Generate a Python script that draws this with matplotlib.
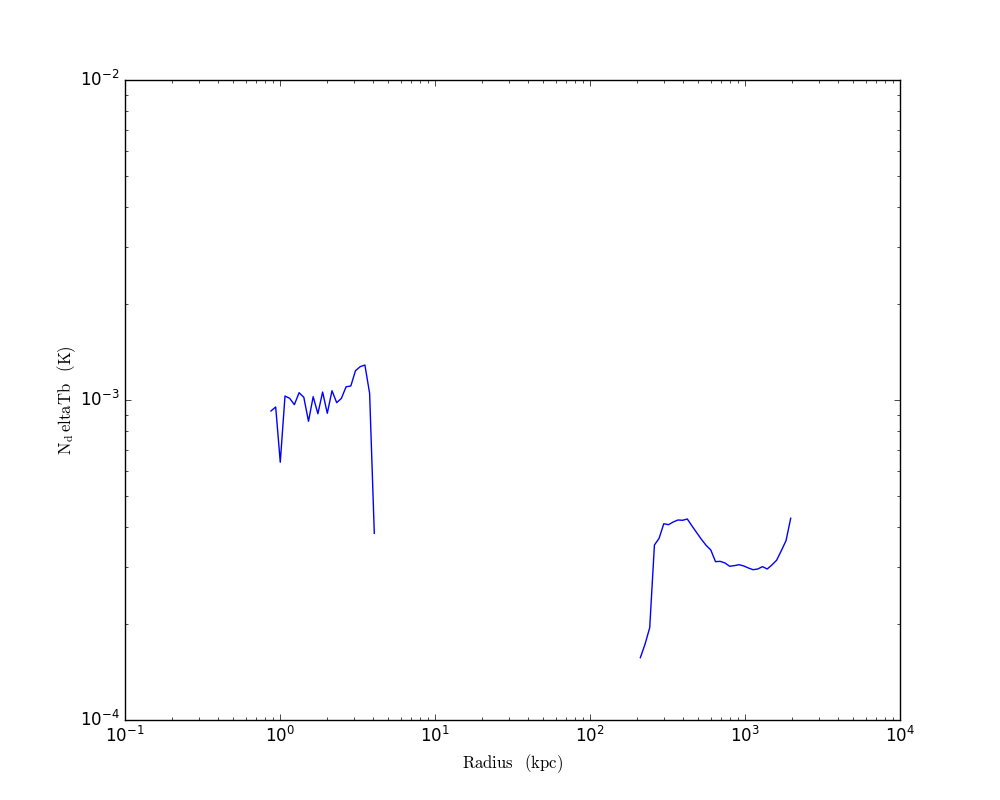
import numpy as np
import matplotlib
matplotlib.use('Agg')
import matplotlib.pyplot as plt

# primo tratto (raggi piccoli)
r_interno = [0.875, 0.938, 1.004, 1.077, 1.155, 1.238, 1.328, 1.424, 1.527, 1.637,
             1.756, 1.883, 2.019, 2.165, 2.322, 2.489, 2.670, 2.863, 3.070, 3.292,
             3.530, 3.786, 4.059]
t_interno = [9.24e-4, 9.51e-4, 6.39e-4, 1.029e-3, 1.012e-3, 9.67e-4, 1.054e-3, 1.020e-3,
             8.58e-4, 1.024e-3, 9.06e-4, 1.059e-3, 9.09e-4, 1.069e-3, 9.81e-4, 1.012e-3,
             1.100e-3, 1.106e-3, 1.235e-3, 1.271e-3, 1.286e-3, 1.049e-3, 3.83e-4]

# secondo tratto (raggi grandi)
r_esterno = [211.2, 226.4, 242.8, 260.4, 279.1, 299.3, 321.0, 344.2, 369.1, 395.8,
             424.4, 455.1, 488.1, 523.3, 561.2, 601.8, 645.2, 691.8, 741.9, 795.6,
             853.1, 914.8, 980.8, 1052, 1128, 1209, 1297, 1391, 1491, 1599,
             1715, 1839, 1972]
t_esterno = [1.566e-4, 1.724e-4, 1.943e-4, 3.522e-4, 3.696e-4, 4.106e-4, 4.077e-4, 4.157e-4,
             4.217e-4, 4.208e-4, 4.248e-4, 4.039e-4, 3.849e-4, 3.670e-4, 3.514e-4, 3.398e-4,
             3.125e-4, 3.132e-4, 3.096e-4, 3.023e-4, 3.036e-4, 3.058e-4, 3.030e-4, 2.985e-4,
             2.949e-4, 2.964e-4, 3.015e-4, 2.964e-4, 3.051e-4, 3.156e-4, 3.381e-4, 3.633e-4,
             4.270e-4]

plt.style.use('classic')
plt.rcParams['mathtext.fontset'] = 'dejavusans'

fig = plt.figure(figsize=(10, 8), dpi=100, facecolor='white')
ax = fig.add_subplot(111)

# il buco tra i due tratti si ottiene con un NaN
r = r_interno + [np.nan] + r_esterno
t = t_interno + [np.nan] + t_esterno
ax.plot(r, t, color='blue', lw=1)

ax.set_xscale('log')
ax.set_yscale('log')
ax.set_xlim(0.1, 1e4)
ax.set_ylim(1e-4, 1e-2)

ax.set_xlabel(r'$\rm{Radius\ \ \,(kpc)}$', math_fontfamily='cm', fontsize=12)
ax.set_ylabel(r'$\rm{N_d\,eltaTb\ \ \,(K)}$', math_fontfamily='cm', fontsize=12,
              labelpad=1)

fig.savefig('out.png', dpi=100, facecolor='white')
